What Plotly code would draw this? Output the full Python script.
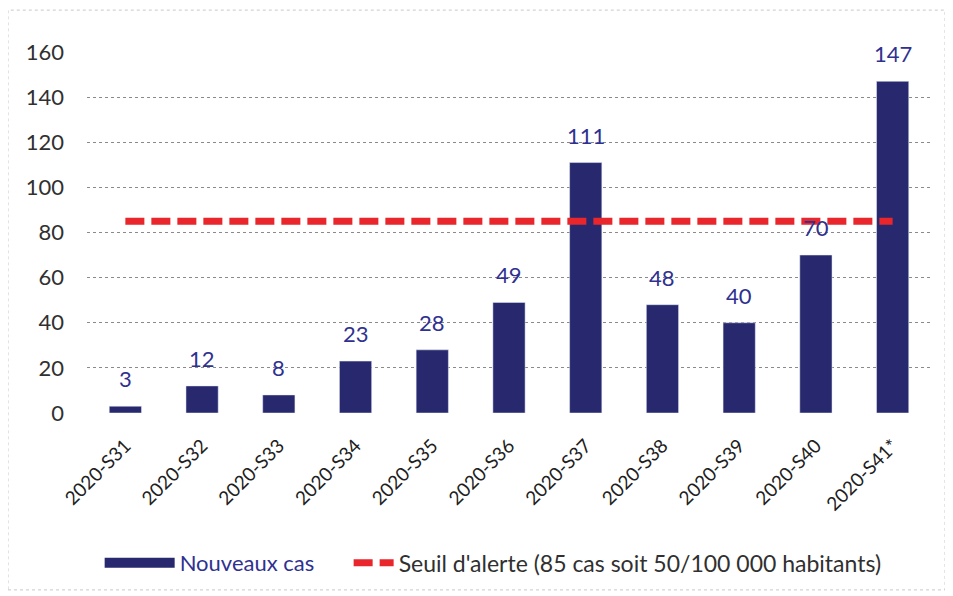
import plotly.graph_objects as go

categories = ["2020-S31", "2020-S32", "2020-S33", "2020-S34", "2020-S35", "2020-S36",
              "2020-S37", "2020-S38", "2020-S39", "2020-S40", "2020-S41*"]
nouveaux_cas = [3, 12, 8, 23, 28, 49, 111, 48, 40, 70, 147]
seuil = [85] * len(categories)
y_ticks = [0, 20, 40, 60, 80, 100, 120, 140, 160]

BAR = "#27286E"
LABEL = "#2F3190"
RED = "#E8262B"
FONT = "Lato"

fig = go.Figure()
fig.add_trace(go.Bar(x=categories, y=nouveaux_cas, marker_color=BAR, showlegend=False,
                     hoverinfo="skip"))
# legend proxy for bars (wide rectangle)
fig.add_trace(go.Scatter(x=[None], y=[None], mode="lines", name="Nouveaux cas",
                         line=dict(color=BAR, width=10), legend="legend"))
fig.add_trace(go.Scatter(x=categories, y=seuil, mode="lines",
                         name="Seuil d'alerte (85 cas soit 50/100 000 habitants)",
                         line=dict(color=RED, width=7, dash="19px,7px"), legend="legend2"))

for c, v in zip(categories, nouveaux_cas):
    fig.add_annotation(x=c, y=v, text=str(v), showarrow=False, yanchor="bottom",
                       yshift=12, font=dict(family=FONT, size=22, color=LABEL))

fig.update_layout(
    width=953, height=596,
    margin=dict(l=79, r=30, t=44, b=191),
    paper_bgcolor="white", plot_bgcolor="white",
    font=dict(family=FONT, size=18, color="#404040"),
    bargap=0.58,
    legend=dict(orientation="h", x=0.015, xanchor="left", y=0.069, yanchor="middle",
                yref="container", font=dict(family=FONT, size=22, color=LABEL),
                itemwidth=70, bgcolor="rgba(0,0,0,0)"),
    legend2=dict(orientation="h", x=0.31, xanchor="left", y=0.069, yanchor="middle",
                 yref="container", font=dict(family=FONT, size=23, color="#303030"),
                 itemwidth=40, bgcolor="rgba(0,0,0,0)"),
    xaxis=dict(tickangle=-45, showgrid=False, showline=False, ticks="",
               ticklabelstandoff=17,
               tickfont=dict(family=FONT, size=19, color="#202020")),
    yaxis=dict(range=[0, 160], tickvals=y_ticks, showgrid=True, gridcolor="#8a8a8a",
               griddash="dot", gridwidth=1, zeroline=False, showline=False,
               ticks="", ticklen=0, ticklabelstandoff=22,
               tickfont=dict(family=FONT, size=22, color="#303030")),
    shapes=[dict(type="rect", xref="paper", yref="paper", x0=-0.0936, x1=1.0166,
                 y0=-0.49, y1=1.116, line=dict(color="#c8c8c8", width=1, dash="dot"))],
)

fig.write_html("out.html")
